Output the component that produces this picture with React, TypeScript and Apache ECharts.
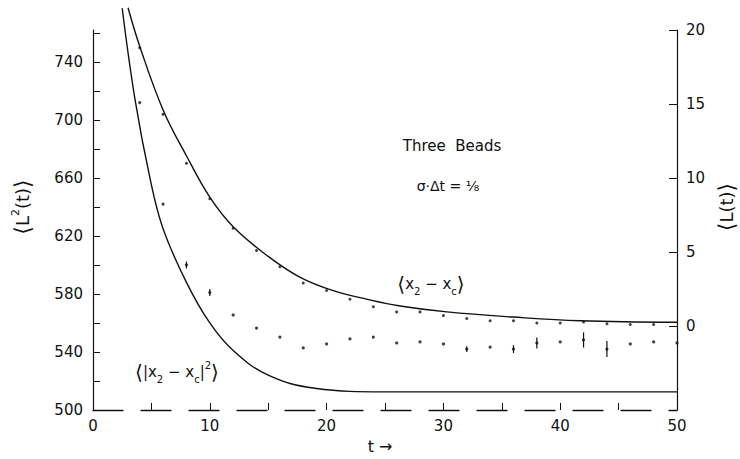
import React, { useEffect, useRef } from "react";
import * as echarts from "echarts";

// theory curve <x2 - xc>  (right axis, <L(t)>)
const upperCurveT = [3, 4, 6, 8, 10, 12, 15, 17.7, 20.5, 23.5, 26.3, 30.3, 36, 41.7, 50];
const upperCurveL = [21.5, 18.9, 14.6, 11.5, 8.7, 6.7, 4.7, 3.3, 2.4, 1.8, 1.35, 0.95, 0.6, 0.35, 0.25];

// theory curve <|x2 - xc|^2>  (left axis, <L^2(t)>)
const lowerCurveT = [2.5, 3.6, 4.9, 6, 8, 10, 12, 15, 19, 25, 50];
const lowerCurveL2 = [777, 714, 659, 625, 588, 560, 541, 524, 515, 512.5, 512.5];

// simulation points <x2 - xc>  (right axis)
const upperDotsT = [4, 6, 8, 10, 12, 14, 16, 18, 20, 22, 24, 26, 28, 30, 32, 34, 36, 38, 40, 42, 44, 46, 48];
const upperDotsL = [18.8, 14.3, 11.0, 8.6, 6.6, 5.1, 4.0, 2.9, 2.4, 1.8, 1.3, 0.95, 0.95, 0.7, 0.5, 0.35, 0.35, 0.2, 0.2, 0.27, 0.15, 0.1, 0.1];

// simulation points <|x2 - xc|^2>  (left axis)
const lowerDotsT = [4, 6, 8, 10, 12, 14, 16, 18, 20, 22, 24, 26, 28, 30, 32, 34, 36, 38, 40, 42, 44, 46, 48, 50];
const lowerDotsL2 = [712, 642, 600, 581, 565.5, 556.5, 550.3, 542.8, 545.5, 549, 550.3, 546.2, 546.9, 545.5, 542, 543.4, 542, 546.2, 546.9, 548.3, 542, 545.5, 546.9, 546.2];

// error bars on the <|x2 - xc|^2> points
const errT = [8, 10, 32, 36, 38, 42, 44];
const errCenter = [600, 581, 542, 542, 546.2, 548.3, 542];
const errHalf = [2.4, 2.4, 2, 2.7, 3.8, 5.2, 5.5];

// axis ticks / labels
const xTicks = [0, 5, 10, 15, 20, 25, 30, 35, 40, 45, 50];
const xLabels = [0, 10, 20, 30, 40, 50];
const leftTicks = [500, 520, 540, 560, 580, 600, 620, 640, 660, 680, 700, 720, 740, 760];
const leftLabels = [500, 540, 580, 620, 660, 700, 740];
const rightTicks = [0, 5, 10, 15, 20];
const rightLabels = [0, 5, 10, 15, 20];

const INK = "#111";
const FONT = "DejaVu Sans";

export default function App() {
  const ref = useRef<HTMLDivElement>(null);
  useEffect(() => {
    if (!ref.current) return;
    const chart = echarts.init(ref.current, null, { renderer: "svg" });
    const zip = (a: number[], b: number[]) => a.map((v, i) => [v, b[i]]);
    const labelStyle = { color: INK, fontSize: 15, fontFamily: FONT };
    const tok = (size: number, va: string) => ({ fontSize: size, fontFamily: FONT, fill: INK, color: INK, verticalAlign: va, lineHeight: 24 });
    chart.setOption({
      animation: false,
      backgroundColor: "#fff",
      grid: { left: 93, right: 63, top: 30, bottom: 49 },
      xAxis: {
        type: "value",
        min: 0,
        max: 50,
        axisLine: { onZero: false, lineStyle: { color: INK, width: 1.3, type: [30, 18] } },
        axisTick: { show: true, inside: true, length: 7, customValues: xTicks, lineStyle: { color: INK } },
        axisLabel: { ...labelStyle, margin: 8, customValues: xLabels },
        splitLine: { show: false },
      },
      yAxis: [
        {
          type: "value",
          min: 500,
          max: 762,
          position: "left",
          axisLine: { show: true, onZero: false, lineStyle: { color: INK, width: 1.2 } },
          axisTick: { show: true, inside: true, length: 7, customValues: leftTicks, lineStyle: { color: INK } },
          axisLabel: { ...labelStyle, margin: 10, customValues: leftLabels },
          splitLine: { show: false },
        },
        {
          type: "value",
          min: -5.68,
          max: 20,
          position: "right",
          axisLine: { show: true, onZero: false, lineStyle: { color: INK, width: 1.2 } },
          axisTick: { show: true, inside: true, length: 8, customValues: rightTicks, lineStyle: { color: INK } },
          axisLabel: { ...labelStyle, margin: 9, customValues: rightLabels },
          splitLine: { show: false },
        },
      ],
      series: [
        {
          type: "line",
          yAxisIndex: 1,
          data: zip(upperCurveT, upperCurveL),
          smooth: 0.4,
          showSymbol: false,
          clip: false,
          lineStyle: { color: INK, width: 1.4 },
        },
        {
          type: "line",
          yAxisIndex: 0,
          data: zip(lowerCurveT, lowerCurveL2),
          smooth: 0.4,
          showSymbol: false,
          clip: false,
          lineStyle: { color: INK, width: 1.4 },
        },
        {
          type: "scatter",
          yAxisIndex: 1,
          data: zip(upperDotsT, upperDotsL),
          symbol: "circle",
          symbolSize: 3,
          itemStyle: { color: INK },
        },
        {
          type: "scatter",
          yAxisIndex: 0,
          data: zip(lowerDotsT, lowerDotsL2),
          symbol: "circle",
          symbolSize: 3.2,
          itemStyle: { color: INK },
        },
        {
          type: "custom",
          yAxisIndex: 0,
          data: errT.map((t, i) => [t, errCenter[i] - errHalf[i], errCenter[i] + errHalf[i]]),
          encode: { x: 0, y: [1, 2] },
          renderItem: (_p: any, api: any) => {
            const a = api.coord([api.value(0), api.value(1)]);
            const b = api.coord([api.value(0), api.value(2)]);
            return {
              type: "line",
              shape: { x1: a[0], y1: a[1], x2: b[0], y2: b[1] },
              style: { stroke: INK, lineWidth: 1.2 },
            };
          },
        },
      ],
      graphic: [
        {
          type: "text",
          x: 22,
          y: 207,
          rotation: Math.PI / 2,
          style: {
            text: "{b|⟨}{n|L}{p|2}{n|(t)}{b|⟩}",
            align: "center",
            verticalAlign: "middle",
            rich: { b: tok(22, "middle"), n: tok(18, "middle"), p: tok(11, "top") },
          },
        },
        {
          type: "text",
          x: 726,
          y: 207,
          rotation: Math.PI / 2,
          style: {
            text: "{b|⟨}{n|L(t)}{b|⟩}",
            align: "center",
            verticalAlign: "middle",
            rich: { b: tok(22, "middle"), n: tok(18, "middle") },
          },
        },
        {
          type: "text",
          x: 452,
          y: 146,
          style: { text: "Three  Beads", font: `15px ${FONT}`, fill: INK, align: "center", verticalAlign: "middle" },
        },
        {
          type: "text",
          x: 448,
          y: 186,
          style: { text: "σ·Δt = ⅛", font: `14px ${FONT}`, fill: INK, align: "center", verticalAlign: "middle" },
        },
        {
          type: "text",
          x: 431,
          y: 284,
          style: {
            text: "{b|⟨}{n|x}{s|2}{n| − x}{s|c}{b|⟩}",
            align: "center",
            verticalAlign: "middle",
            rich: { b: tok(20, "middle"), n: tok(15, "middle"), s: tok(10, "bottom") },
          },
        },
        {
          type: "text",
          x: 177,
          y: 372,
          style: {
            text: "{b|⟨}{n||x}{s|2}{n| − x}{s|c}{n||}{p|2}{b|⟩}",
            align: "center",
            verticalAlign: "middle",
            rich: { b: tok(20, "middle"), n: tok(15, "middle"), s: tok(10, "bottom"), p: tok(10, "top") },
          },
        },
        {
          type: "text",
          x: 380,
          y: 446,
          style: { text: "t →", font: `16px ${FONT}`, fill: INK, align: "center", verticalAlign: "middle" },
        },
      ],
    });
    return () => chart.dispose();
  }, []);
  return <div ref={ref} style={{ position: "fixed", left: 0, top: 0, width: 740, height: 459 }} />;
}
